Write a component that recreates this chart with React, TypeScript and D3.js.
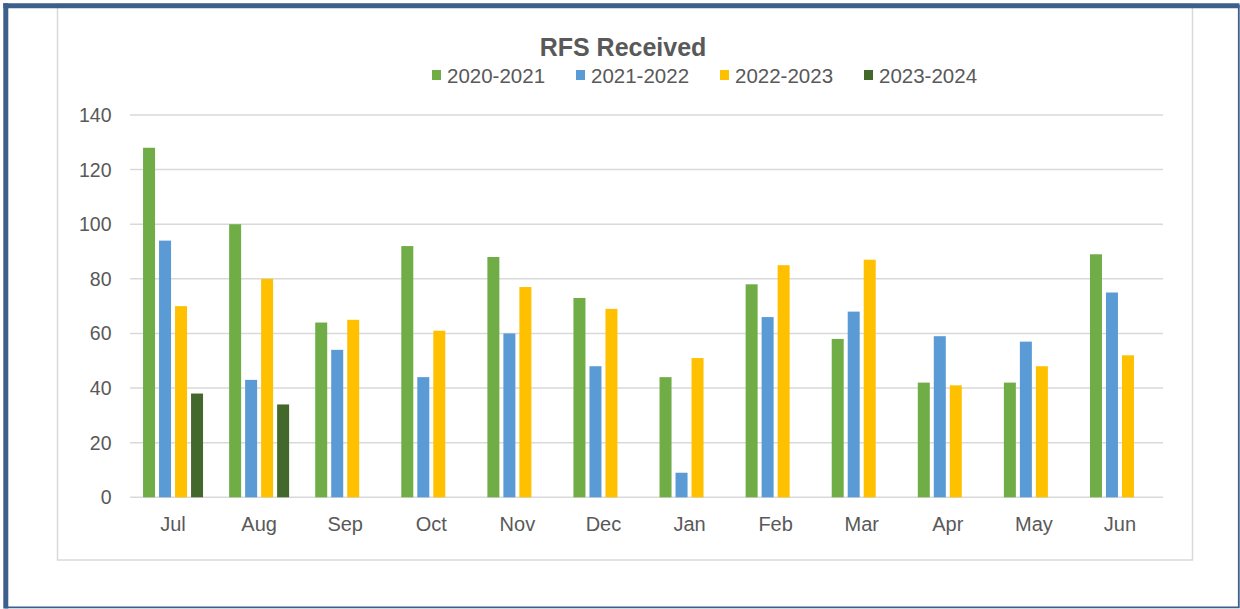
import * as d3 from "d3";

const WIDTH = 1240;
const HEIGHT = 609;
const PLOT = { left: 130, right: 1163, top: 115, bottom: 497.3 };

const months = ["Jul", "Aug", "Sep", "Oct", "Nov", "Dec", "Jan", "Feb", "Mar", "Apr", "May", "Jun"];
const seasons = ["2020-2021", "2021-2022", "2022-2023", "2023-2024"];
const colors = ["#70ad47", "#5b9bd5", "#ffc000", "#43682b"];

const fy2021 = [128, 100, 64, 92, 88, 73, 44, 78, 58, 42, 42, 89];
const fy2122 = [94, 43, 54, 44, 60, 48, 9, 66, 68, 59, 57, 75];
const fy2223 = [70, 80, 65, 61, 77, 69, 51, 85, 87, 41, 48, 52];
const fy2324 = [38, 34, null, null, null, null, null, null, null, null, null, null];

const yTicks = [0, 20, 40, 60, 80, 100, 120, 140];

const seriesValues = [fy2021, fy2122, fy2223, fy2324];

const FONT = "'Liberation Sans', Arial, sans-serif";
const TEXT = "#595959";
const GRID = "#d9d9d9";
const BORDER = "#3d5f8c";

export default function App() {
  const x0 = d3
    .scaleBand<string>()
    .domain(months)
    .range([PLOT.left, PLOT.right])
    .paddingInner(0.2566)
    .paddingOuter(0.1283);

  const x1 = d3
    .scaleBand<string>()
    .domain(seasons)
    .range([0, x0.bandwidth()])
    .paddingInner(0.25)
    .paddingOuter(0.125);

  const y = d3.scaleLinear().domain([0, 140]).range([PLOT.bottom, PLOT.top]);

  const legendX = d3.scaleBand<string>().domain(seasons).range([432, 1008]);

  return (
    <svg
      width={WIDTH}
      height={HEIGHT}
      style={{ position: "absolute", left: 0, top: 0, background: "#fff" }}
      fontFamily={FONT}
    >
      {/* inner chart frame */}
      <rect x={57.5} y={4} width={1135} height={556} fill="#fff" stroke={GRID} strokeWidth={1.5} />

      {/* gridlines */}
      {yTicks.map((t) => (
        <g key={t}>
          <line x1={PLOT.left} x2={PLOT.right} y1={y(t)} y2={y(t)} stroke={GRID} strokeWidth={1.5} />
          <text
            x={111.5}
            y={y(t)}
            textAnchor="end"
            dominantBaseline="central"
            fontSize={19.5}
            fill={TEXT}
          >
            {t}
          </text>
        </g>
      ))}

      {/* bars */}
      {seriesValues.map((vals, si) => (
        <g key={seasons[si]} fill={colors[si]}>
          {vals.map((v, mi) =>
            v == null ? null : (
              <rect
                key={months[mi]}
                x={(x0(months[mi]) ?? 0) + (x1(seasons[si]) ?? 0)}
                y={y(v)}
                width={x1.bandwidth()}
                height={y(0) - y(v)}
              />
            )
          )}
        </g>
      ))}

      {/* x labels */}
      {months.map((m) => (
        <text
          key={m}
          x={(x0(m) ?? 0) + x0.bandwidth() / 2}
          y={531}
          textAnchor="middle"
          fontSize={20}
          fill={TEXT}
        >
          {m}
        </text>
      ))}

      {/* title */}
      <text x={623} y={56} textAnchor="middle" fontSize={25} fontWeight="bold" fill={TEXT}>
        RFS Received
      </text>

      {/* legend */}
      {seasons.map((s, i) => (
        <g key={s} transform={`translate(${legendX(s)},75)`}>
          <rect x={0} y={-5} width={9} height={10} fill={colors[i]} />
          <text x={15} y={0} dominantBaseline="central" fontSize={20.5} fill={TEXT}>
            {s}
          </text>
        </g>
      ))}

      {/* outer blue border */}
      <path
        d={`M5.8,5.8 H1238.8 V607.3 H5.8 Z`}
        fill="none"
        stroke={BORDER}
        strokeWidth={1.8}
      />
      <line x1={3.3} x2={1239.5} y1={5.8} y2={5.8} stroke={BORDER} strokeWidth={5} />
      <line x1={5.8} x2={5.8} y1={3.3} y2={608.5} stroke={BORDER} strokeWidth={5} />
    </svg>
  );
}
